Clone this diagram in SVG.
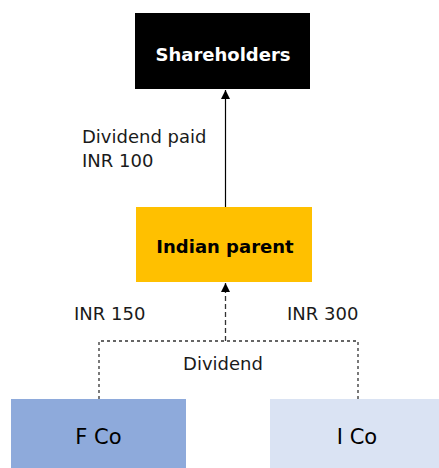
<svg xmlns="http://www.w3.org/2000/svg" width="439" height="468" viewBox="0 0 439 468">
  <style>
    .lbl { font-family: "DejaVu Sans", Verdana, sans-serif; font-size: 18px; fill: #1a1a1a; }
    .node-text { font-family: "DejaVu Sans", Verdana, sans-serif; font-size: 18px; text-anchor: middle; font-weight: bold; }
    .co-text { font-family: "DejaVu Sans", Verdana, sans-serif; font-size: 21px; text-anchor: middle; fill: #000; }
    .solid { stroke: #000; stroke-width: 1.2; fill: none; }
    .dotted { stroke: #333; stroke-width: 1.3; fill: none; stroke-dasharray: 3 3; }
    .dashed { stroke: #333; stroke-width: 1.3; fill: none; stroke-dasharray: 5 3; }
  </style>
  <defs>
    <marker id="arrow" viewBox="0 0 10 10" refX="10" refY="5" markerWidth="9" markerHeight="9" markerUnits="userSpaceOnUse" orient="auto">
      <path d="M0,0 L10,5 L0,10 z" fill="#000"/>
    </marker>
  </defs>
  <rect width="439" height="468" fill="#fff"/>

  <g id="connectors">
    <line class="solid" x1="225.5" y1="207" x2="225.5" y2="90" marker-end="url(#arrow)"/>
    <line class="dashed" x1="225.5" y1="341" x2="225.5" y2="283" marker-end="url(#arrow)"/>
    <polyline class="dotted" points="99,399 99,341 358,341 358,399"/>
  </g>

  <g id="shareholders">
    <rect x="135" y="13" width="175" height="76" fill="#000"/>
    <text class="node-text" x="223" y="61" fill="#fff">Shareholders</text>
  </g>

  <g id="indian-parent">
    <rect x="136" y="207" width="176" height="75" fill="#FFC000"/>
    <text class="node-text" x="225" y="253" fill="#000">Indian parent</text>
  </g>

  <g id="f-co">
    <rect x="11" y="399" width="175" height="69" fill="#8EAADB"/>
    <text class="co-text" x="98.5" y="444">F Co</text>
  </g>

  <g id="i-co">
    <rect x="270" y="399" width="169" height="69" fill="#DAE3F3"/>
    <text class="co-text" x="357" y="444">I Co</text>
  </g>

  <g id="labels">
    <text class="lbl" x="82" y="143">Dividend paid</text>
    <text class="lbl" x="82" y="167">INR 100</text>
    <text class="lbl" x="74" y="320">INR 150</text>
    <text class="lbl" x="287" y="320">INR 300</text>
    <text class="lbl" x="223" y="370" text-anchor="middle">Dividend</text>
  </g>
</svg>
